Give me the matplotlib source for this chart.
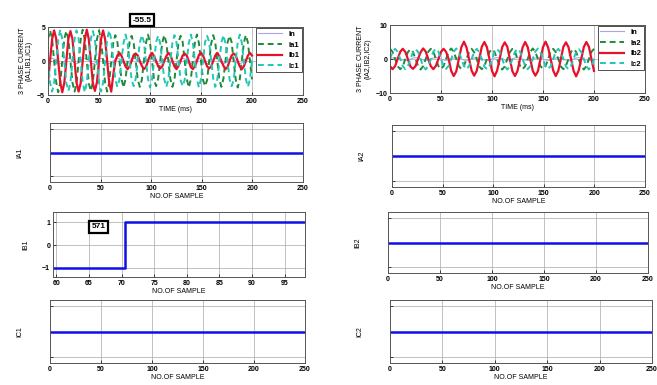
import numpy as np
import matplotlib
matplotlib.use('Agg')
import matplotlib.pyplot as plt

plt.rcParams['font.family'] = ['Liberation Sans', 'DejaVu Sans']
plt.rcParams['font.weight'] = 'bold'

# ---- top-left waveform, time in ms (2 ms step) ----
TIME_L = np.arange(0, 201, 2)
IN_L = [0, 0.3, 0.4, 0.3, 0, -0.3, -0.4, -0.3] * 12 + [0, 0.3, 0.4, 0.3, 0]
IA1_W = [3.2, 4.5, 3.3, 0, -3.1, -4.6, -3.2, 0,
         3.3, 4.4, 3.2, 0, -3.2, -4.5, -3.3, 0,
         3.1, 4.6, 3.2, 0, -3.3, -4.4, -3.1, 0,
         3.2, 4.5, 3.1, 0, -3.2, -4.5, -3.2, 0,
         2.7, 3.8, 2.8, 0, -2.6, -3.9, -2.7, 0,
         2.8, 3.7, 2.6, 0, -2.7, -3.8, -2.8, 0,
         2.6, 3.9, 2.7, 0, -2.8, -3.7, -2.6, 0,
         2.7, 3.8, 2.7, 0, -2.7, -3.8, -2.7, 0,
         2.8, 3.7, 2.8, 0, -2.6, -3.9, -2.7, 0,
         2.7, 3.9, 2.6, 0, -2.8, -3.7, -2.8, 0,
         2.6, 3.8, 2.7, 0, -2.7, -3.8, -2.6, 0,
         2.7, 3.7, 2.8, 0, -2.7, -3.9, -2.7, 0,
         2.7, 3.8, 2.7, 0, -2.7]
IB1_W = [-3.2, 0, 3.2, 4.5, 3.3, 0, -3.1, -4.6,
         -3.2, 0, 3.3, 4.4, 3.2, 0, -3.2, -4.5,
         -3.3, 0, 3.1, 4.6, 3.2, 0, -3.3, -4.4,
         -3.1, 0, 3.2, 4.5, 3.2, 0, -3.2, -4.5,
         -2.0,
         0, 0.8, 1.2, 0.8, 0, -0.8, -1.2, -0.8,
         0, 0.9, 1.1, 0.8, 0, -0.7, -1.2, -0.9,
         0, 0.8, 1.2, 0.7, 0, -0.8, -1.1, -0.8,
         0, 0.7, 1.2, 0.9, 0, -0.8, -1.2, -0.7,
         0, 0.8, 1.1, 0.8, 0, -0.9, -1.2, -0.8,
         0, 0.9, 1.2, 0.8, 0, -0.8, -1.1, -0.8,
         0, 0.8, 1.2, 0.7, 0, -0.7, -1.2, -0.9,
         0, 0.8, 1.1, 0.8, 0, -0.8, -1.2, -0.8,
         0, 0.8, 1.2, 0.8]
IC1_W = [0, -3.2, -4.5, -3.3, 0, 3.1, 4.6, 3.2,
         0, -3.3, -4.4, -3.2, 0, 3.2, 4.5, 3.3,
         0, -3.1, -4.6, -3.2, 0, 3.3, 4.4, 3.1,
         0, -3.2, -4.5, -3.2, 0, 3.2, 4.5, 3.2,
         0, -2.7, -3.8, -2.8, 0, 2.6, 3.9, 2.7,
         0, -2.8, -3.7, -2.6, 0, 2.7, 3.8, 2.8,
         0, -2.6, -3.9, -2.7, 0, 2.8, 3.7, 2.6,
         0, -2.7, -3.8, -2.7, 0, 2.7, 3.8, 2.7,
         0, -2.8, -3.7, -2.8, 0, 2.6, 3.9, 2.7,
         0, -2.7, -3.9, -2.6, 0, 2.8, 3.7, 2.8,
         0, -2.6, -3.8, -2.7, 0, 2.7, 3.8, 2.6,
         0, -2.7, -3.7, -2.8, 0, 2.7, 3.9, 2.7,
         0, -2.7, -3.8, -2.7, 0]

# ---- top-right waveform, time in ms (2.5 ms step) ----
TIME_R = np.arange(0, 200.1, 2.5)
IN_R = [0, 0.3, 0.4, 0.3, 0, -0.3, -0.4, -0.3] * 10 + [0]
IA2_W = [3.0, 2.1, 0, -2.1, -3.0, -2.2, 0, 2.0,
         2.9, 2.1, 0, -2.0, -3.1, -2.1, 0, 2.1,
         3.0, 2.2, 0, -2.1, -2.9, -2.1, 0, 2.2,
         3.1, 2.1, 0, -2.1, -3.0, -2.0, 0, 2.1,
         3.0, 2.0, 0, -2.2, -3.0, -2.1, 0, 2.1,
         2.9, 2.1, 0, -2.1, -3.1, -2.2, 0, 2.0,
         3.0, 2.2, 0, -2.0, -3.0, -2.1, 0, 2.1,
         3.1, 2.1, 0, -2.1, -2.9, -2.1, 0, 2.2,
         3.0, 2.0, 0, -2.2, -3.0, -2.0, 0, 2.1,
         2.9, 2.1, 0, -2.1, -3.1, -2.1, 0, 2.1,
         3.0]
IB2_W = [-2.1, -3.0, -2.1, 0, 2.1, 3.0, 2.1, 0,
         -2.2, -2.9, -2.1, 0, 2.0, 3.1, 2.2, 0,
         -2.1, -3.0, -2.0, 0, 2.1, 3.0, 2.1, 0,
         -3.5, -5.0, -3.6, 0, 3.5, 5.1, 3.4, 0,
         -3.4, -4.9, -3.5, 0, 3.6, 5.0, 3.5, 0,
         -3.5, -5.1, -3.4, 0, 3.5, 4.9, 3.6, 0,
         -3.6, -5.0, -3.5, 0, 3.4, 5.0, 3.5, 0,
         -3.5, -4.9, -3.6, 0, 3.5, 5.1, 3.4, 0,
         -3.4, -5.0, -3.5, 0, 3.6, 4.9, 3.5, 0,
         -3.5, -5.1, -3.4, 0, 3.5, 5.0, 3.6, 0,
         -3.5]
IC2_W = [0, 2.1, 3.0, 2.1, 0, -2.1, -3.0, -2.2,
         0, 2.0, 2.9, 2.1, 0, -2.1, -3.1, -2.1,
         0, 2.2, 3.0, 2.2, 0, -2.1, -2.9, -2.0,
         0, 2.1, 3.1, 2.1, 0, -2.0, -3.0, -2.1,
         0, 2.1, 3.0, 2.0, 0, -2.2, -3.0, -2.1,
         0, 2.0, 2.9, 2.1, 0, -2.1, -3.1, -2.2,
         0, 2.1, 3.0, 2.2, 0, -2.0, -3.0, -2.1,
         0, 2.2, 3.1, 2.1, 0, -2.1, -2.9, -2.1,
         0, 2.1, 3.0, 2.0, 0, -2.2, -3.0, -2.0,
         0, 2.1, 2.9, 2.1, 0, -2.1, -3.1, -2.1,
         0]

# ---- sample-indexed flags ----
SAMPLE_FULL = [0, 250]
IA1 = [0, 0]; IA2 = [0, 0]; IB2 = [0, 0]; IC1 = [0, 0]; IC2 = [0, 0]
SAMPLE_IB1 = list(range(59, 100))
IB1 = [-1] * 12 + [1] * 29          # samples 59..70 -> -1, 71..99 -> +1

SAMPLE_TICKS = [0, 50, 100, 150, 200, 250]
IB1_TICKS = [60, 65, 70, 75, 80, 85, 90, 95]

C_IN, C_IA, C_IB, C_IC = '#a9a4f0', '#1f8a3c', '#e8102a', '#22c7b5'
BLUE = '#1010e8'
FS = 5

W, H = 657, 385
def box(l, t, r, b):
    return [l / W, 1 - b / H, (r - l) / W, (b - t) / H]

fig = plt.figure(figsize=(6.57, 3.85), dpi=100)

def style(ax):
    ax.tick_params(direction='in', length=2, width=0.5, labelsize=FS, pad=2)
    ax.grid(True, color='#a8a8a8', linewidth=0.5)
    for s in ax.spines.values():
        s.set_color('#555555'); s.set_linewidth(0.7)

def wave(ax, t, series, names, ylim, yticks, ylabel):
    ax.plot(t, series[0], color=C_IN, lw=0.8, label=names[0])
    ax.plot(t, series[1], color=C_IA, lw=1.4, ls=(0, (3, 2)), label=names[1])
    ax.plot(t, series[2], color=C_IB, lw=1.6, label=names[2])
    ax.plot(t, series[3], color=C_IC, lw=1.4, ls=(0, (3, 2)), label=names[3])
    ax.set_xlim(0, 250); ax.set_ylim(*ylim); ax.set_yticks(yticks)
    ax.set_xticks(SAMPLE_TICKS)
    ax.set_xlabel('TIME (ms)', fontsize=FS, labelpad=1)
    ax.set_ylabel(ylabel, fontsize=FS, labelpad=3, linespacing=1.0)
    style(ax)
    leg = ax.legend(loc='upper right', bbox_to_anchor=(1.01, 1.04), fontsize=FS + 0.5,
                    frameon=True, fancybox=False, framealpha=1, edgecolor='#333333',
                    handlelength=3.2, labelspacing=0.45, borderpad=0.3)
    leg.get_frame().set_linewidth(0.6)
    leg.set_zorder(10)

ax1 = fig.add_axes(box(48, 27, 303, 95))
wave(ax1, TIME_L, [IN_L, IA1_W, IB1_W, IC1_W], ['In', 'Ia1', 'Ib1', 'Ic1'],
     (-5, 5), [-5, 0, 5], '3 PHASE CURRENT\n(IA1,IB1,IC1)')
fig.text(142 / W, 1 - 20 / H, '-55.5', fontsize=6, ha='center', va='center',
         bbox=dict(boxstyle='square,pad=0.3', facecolor='white', edgecolor='black', linewidth=1.6))

ax2 = fig.add_axes(box(390, 25, 645, 93))
wave(ax2, TIME_R, [IN_R, IA2_W, IB2_W, IC2_W], ['In', 'Ia2', 'Ib2', 'Ic2'],
     (-10, 10), [-10, 0, 10], '3 PHASE CURRENT\n(IA2,IB2,IC2)')

def flag(ax, y, label):
    ax.plot(SAMPLE_FULL, y, color=BLUE, lw=1.8)
    ax.set_xlim(0, 250); ax.set_ylim(-1, 1)
    ax.set_xticks(SAMPLE_TICKS); ax.set_yticks([-0.8, 0.8]); ax.set_yticklabels([])
    ax.set_xlabel('NO.OF SAMPLE', fontsize=FS, labelpad=1)
    ax.set_ylabel(label, fontsize=FS, labelpad=17)
    style(ax)

flag(fig.add_axes(box(50, 123, 303, 182)), IA1, 'IA1')
flag(fig.add_axes(box(392, 125, 645, 187)), IA2, 'IA2')
flag(fig.add_axes(box(388, 212, 648, 273)), IB2, 'IB2')
flag(fig.add_axes(box(50, 300, 305, 363)), IC1, 'IC1')
flag(fig.add_axes(box(390, 300, 652, 363)), IC2, 'IC2')

ax5 = fig.add_axes(box(53, 212, 305, 277))
ax5.plot(SAMPLE_IB1, IB1, color=BLUE, lw=1.8, drawstyle='steps-mid')
ax5.set_xlim(59.5, 98.1); ax5.set_ylim(-1.4, 1.45)
ax5.set_xticks(IB1_TICKS); ax5.set_yticks([-1, 0, 1])
ax5.set_xlabel('NO.OF SAMPLE', fontsize=FS, labelpad=1)
ax5.set_ylabel('IB1', fontsize=FS, labelpad=9)
style(ax5)
ax5.text(66.5, 0.8, '571', fontsize=6, ha='center', va='center',
         bbox=dict(boxstyle='square,pad=0.3', facecolor='white', edgecolor='black', linewidth=1.6))

fig.savefig('out.png', dpi=100)
